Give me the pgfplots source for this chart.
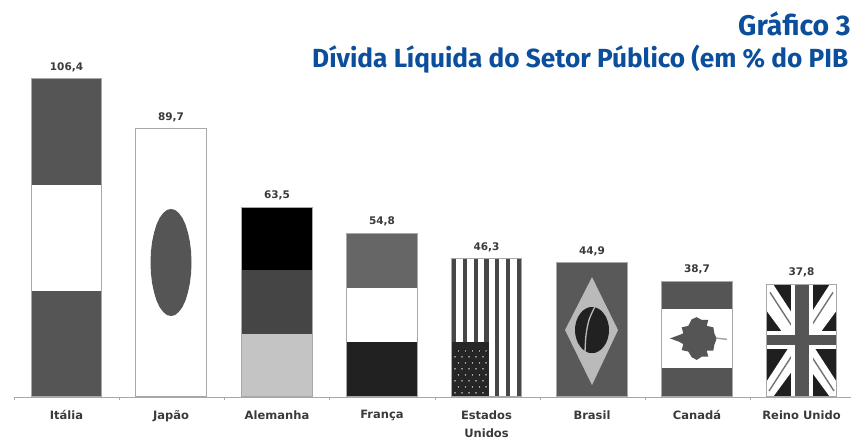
\documentclass[border=0pt]{standalone}
\usepackage{pgfplots}
\pgfplotsset{compat=1.18}
\usepackage{fontspec}
\setmainfont{DejaVu Sans}
\newfontfamily\titlefont{Fira Sans}
\definecolor{ttl}{HTML}{0B4F9C}
\definecolor{lab}{HTML}{3A3A3A}
\definecolor{dk}{HTML}{555555}
\definecolor{bd}{HTML}{A8A8A8}
\pgfplotsset{
  fl/.style={fill=#1,draw=none,forget plot},
  barbase/.style={ybar,bar width=70.5pt,bar shift=0pt,forget plot}
}
\begin{document}
\begin{tikzpicture}
\path[use as bounding box,clip] (0,0) rectangle (851pt,439pt);
\begin{axis}[
  at={(14pt,42pt)},anchor=origin,
  scale only axis,width=837pt,height=397pt,
  xmin=14,xmax=851,ymin=0,ymax=132.82,
  clip=false,
  axis x line*=bottom,hide y axis,
  axis line style={bd,line width=0.9pt,-},
  xtick={66.5,171,277,382,486.5,592,697,801.5},
  xticklabels={Itália,Japão,Alemanha,França,Estados\\Unidos,Brasil,Canadá,Reino Unido},
  minor xtick={14,119,224,329,435,540,645,750},
  major tick length=0pt,minor tick length=3pt,tick align=outside,
  minor tick style={bd,line width=0.7pt},
  xticklabel style={font=\bfseries\fontsize{11.5}{18}\selectfont,text=lab,align=center,yshift=-10pt},
  /pgf/number format/use comma,/pgf/number format/fixed,/pgf/number format/fixed zerofill,
  /pgf/number format/precision=1,/pgf/number format/assume math mode=true,
]
% base bars
\addplot[barbase,fill=white,draw=none] coordinates {(66.5,106.4)(171,89.7)(277,63.5)(382,54.8)(486.5,46.3)(592,44.9)(697,38.7)(801.5,37.8)};
% Italy
\addplot[fl=dk] coordinates {(31.2,106.4)(101.8,106.4)(101.8,70.9)(31.2,70.9)} -- cycle;
\addplot[fl=dk] coordinates {(31.2,35.5)(101.8,35.5)(101.8,0)(31.2,0)} -- cycle;
% Japan
\addplot[fl=dk] coordinates {(171,62.9)(175,62.6)(178.9,61.5)(182.4,59.9)(185.5,57.7)(188,54.9)(189.9,51.9)(191.1,48.5)(191.5,45)(191.1,41.5)(189.9,38.1)(188,35.1)(185.5,32.3)(182.4,30.1)(178.9,28.5)(175,27.4)(171,27.1)(167,27.4)(163.1,28.5)(159.6,30.1)(156.5,32.3)(154,35.1)(152.1,38.1)(150.9,41.5)(150.5,45)(150.9,48.5)(152.1,51.9)(154,54.9)(156.5,57.7)(159.6,59.9)(163.1,61.5)(167,62.6)} -- cycle;
% Germany
\addplot[fl=black] coordinates {(241.7,63.5)(312.3,63.5)(312.3,42.5)(241.7,42.5)} -- cycle;
\addplot[fl={black!73}] coordinates {(241.7,42.5)(312.3,42.5)(312.3,21.1)(241.7,21.1)} -- cycle;
\addplot[fl={black!23}] coordinates {(241.7,21.1)(312.3,21.1)(312.3,0)(241.7,0)} -- cycle;
% France
\addplot[fl={black!60}] coordinates {(346.7,54.8)(417.3,54.8)(417.3,36.5)(346.7,36.5)} -- cycle;
\addplot[fl={black!87}] coordinates {(346.7,18.4)(417.3,18.4)(417.3,0)(346.7,0)} -- cycle;
% United States
\addplot[fl={black!72}] coordinates {(451.8,46.3)(456.3,46.3)(456.3,0)(451.8,0)} -- cycle;
\addplot[fl={black!72}] coordinates {(462.7,46.3)(467.2,46.3)(467.2,0)(462.7,0)} -- cycle;
\addplot[fl={black!72}] coordinates {(473.7,46.3)(478.2,46.3)(478.2,0)(473.7,0)} -- cycle;
\addplot[fl={black!72}] coordinates {(484.4,46.3)(488.9,46.3)(488.9,0)(484.4,0)} -- cycle;
\addplot[fl={black!72}] coordinates {(494.8,46.3)(499.3,46.3)(499.3,0)(494.8,0)} -- cycle;
\addplot[fl={black!72}] coordinates {(505.8,46.3)(510.3,46.3)(510.3,0)(505.8,0)} -- cycle;
\addplot[fl={black!72}] coordinates {(516.8,46.3)(521.3,46.3)(521.3,0)(516.8,0)} -- cycle;
\addplot[fl={black!85}] coordinates {(451.5,18.4)(488.5,18.4)(488.5,0)(451.5,0)} -- cycle;
\addplot[only marks,mark=*,mark size=1.5pt,mark options={draw=none,fill=black!25},forget plot] coordinates {
(455,1.4)(462,1.4)(469,1.4)(476,1.4)(483,1.4)
(458.5,3.4)(465.5,3.4)(472.5,3.4)(479.5,3.4)(486,3.4)
(455,5.4)(462,5.4)(469,5.4)(476,5.4)(483,5.4)
(458.5,7.4)(465.5,7.4)(472.5,7.4)(479.5,7.4)(486,7.4)
(455,9.4)(462,9.4)(469,9.4)(476,9.4)(483,9.4)
(458.5,11.4)(465.5,11.4)(472.5,11.4)(479.5,11.4)(486,11.4)
(455,13.4)(462,13.4)(469,13.4)(476,13.4)(483,13.4)
(458.5,15.4)(465.5,15.4)(472.5,15.4)(479.5,15.4)(486,15.4)};
% Brazil
\addplot[fl={black!65}] coordinates {(556.7,44.9)(627.3,44.9)(627.3,0)(556.7,0)} -- cycle;
\addplot[fl={black!27}] coordinates {(592,40.1)(618,22.4)(592,4)(565,22.4)} -- cycle;
\addplot[fl={black!87}] coordinates {(592,30.1)(595.3,30)(598.5,29.5)(601.5,28.8)(604,27.8)(606.1,26.7)(607.7,25.3)(608.7,23.9)(609,22.4)(608.7,20.9)(607.7,19.5)(606.1,18.1)(604,17)(601.5,16)(598.5,15.3)(595.3,14.8)(592,14.7)(588.7,14.8)(585.5,15.3)(582.5,16)(580,17)(577.9,18.1)(576.3,19.5)(575.3,20.9)(575,22.4)(575.3,23.9)(576.3,25.3)(577.9,26.7)(580,27.8)(582.5,28.8)(585.5,29.5)(588.7,30)} -- cycle;
\addplot[smooth,black!27,line width=1.3pt,forget plot] coordinates {(594.7,30.1)(589,25.8)(586,20.7)(585,15.1)};
% Canada
\addplot[fl=dk] coordinates {(661.7,38.7)(732.3,38.7)(732.3,29.4)(661.7,29.4)} -- cycle;
\addplot[fl=dk] coordinates {(661.7,9.7)(732.3,9.7)(732.3,0)(661.7,0)} -- cycle;
\addplot[fl=dk] coordinates {(670,19.6)(679,20.7)(683.3,21.3)(681.7,23.3)(688.3,23.8)(691.7,26)(696.7,26.7)(701.7,25.8)(708.3,25.8)(706.7,23.8)(713.3,23.3)(714.3,21.3)(716.7,19.6)(714.3,17.4)(713.3,15.5)(706.7,15.5)(708.3,13.5)(701.7,13.5)(696.7,12.4)(691.7,13.3)(688.3,15.2)(681.7,15.7)(683.3,17.7)(679,18.5)} -- cycle;
\addplot[black!35,line width=1.5pt,forget plot] coordinates {(716,19.7)(727,19.3)};
% United Kingdom
\addplot[fl={black!88}] coordinates {(766.2,37.8)(836.8,37.8)(836.8,0)(766.2,0)} -- cycle;
\addplot[fl=white] coordinates {(766.2,37.8)(773,37.8)(836.8,5)(836.8,0)(830,0)(766.2,29)} -- cycle;
\addplot[fl=white] coordinates {(836.8,37.8)(830,37.8)(766.2,5)(766.2,0)(773,0)(836.8,29)} -- cycle;
\addplot[black!55,line width=1.4pt,forget plot] coordinates {(770,35)(834,2)};
\addplot[black!55,line width=1.4pt,forget plot] coordinates {(833,35)(769,2)};
\addplot[fl=white] coordinates {(791,37.8)(813,37.8)(813,0)(791,0)} -- cycle;
\addplot[fl=white] coordinates {(766.2,22.2)(836.8,22.2)(836.8,16)(766.2,16)} -- cycle;
\addplot[fl=dk] coordinates {(795,37.8)(809,37.8)(809,0)(795,0)} -- cycle;
\addplot[fl=dk] coordinates {(766.2,20.8)(836.8,20.8)(836.8,17.4)(766.2,17.4)} -- cycle;
% outlines and value labels
\addplot[barbase,fill=none,draw=bd,line width=1pt,
  nodes near coords,
  every node near coord/.append style={font=\bfseries\fontsize{10.5}{12}\selectfont,text=lab,yshift=3pt}]
  coordinates {(66.5,106.4)(171,89.7)(277,63.5)(382,54.8)(486.5,46.3)(592,44.9)(697,38.7)(801.5,37.8)};
% titles
\node[anchor=base west,inner sep=0pt,font=\titlefont\bfseries\fontsize{28.4}{32}\selectfont,text=ttl] at (axis cs:738,121.1) {Gráfico 3};
\node[anchor=base west,inner sep=0pt,font=\titlefont\bfseries\fontsize{26.2}{30}\selectfont,text=ttl] at (axis cs:312,110.4) {Dívida Líquida do Setor Público (em \% do PIB};
\end{axis}
\end{tikzpicture}
\end{document}
